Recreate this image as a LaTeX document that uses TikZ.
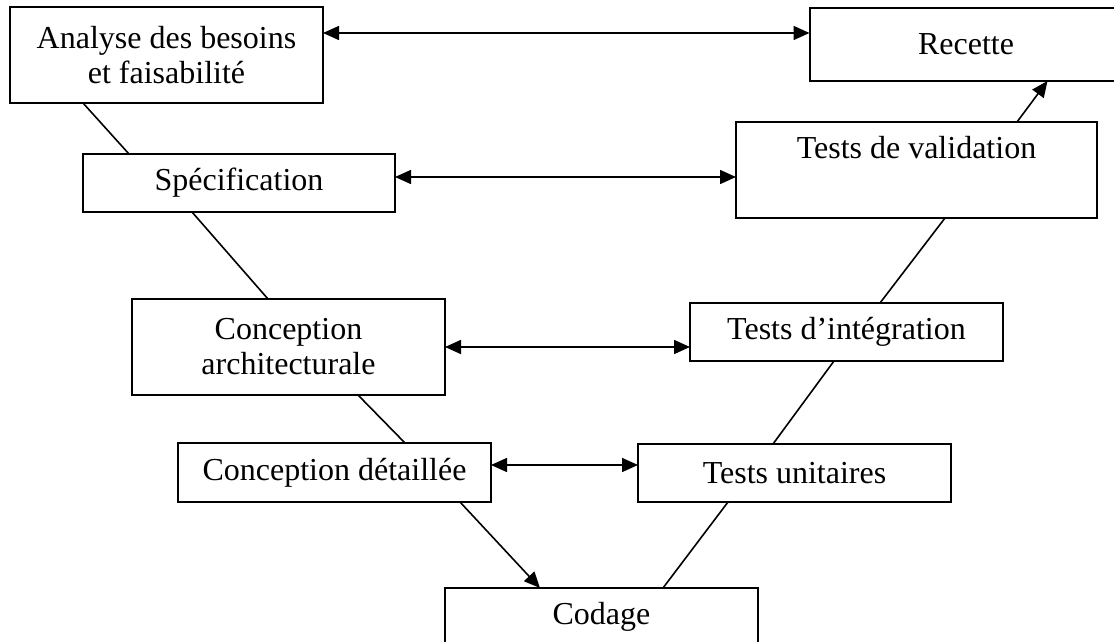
\documentclass[tikz,border=0pt]{standalone}
\usepackage{fontspec}
\setmainfont{Liberation Serif}
\usetikzlibrary{arrows.meta,calc}

\begin{document}
\begin{tikzpicture}[x=0.5pt,y=-0.5pt,
    etape/.style={draw,line width=1pt,inner sep=0pt,outer sep=0pt,minimum width=156.5pt,align=center,font=\fontsize{16}{17.5}\selectfont},
    lien/.style={line width=0.8pt},
    fl/.style={line width=0.8pt,-{Triangle[length=8pt,width=7pt]}},
    dfl/.style={line width=0.8pt,{Triangle[length=8pt,width=7pt]}-{Triangle[length=8pt,width=7pt]}}]
    \useasboundingbox(0,0) rectangle (1114,642);
    \node[etape,minimum height=48pt](A)at(166.5,55){Analyse des besoins\\et faisabilité};
    \node[etape,minimum height=36.5pt](R)at(966,44.5){Recette};
    \node[etape,minimum width=156pt,minimum height=29pt](S)at(239,183){Spécification};
    \node[etape,minimum width=180.5pt,minimum height=48pt](V)at(916.5,170){Tests de validation\\ \strut};
    \node[etape,minimum height=48pt](CA)at(288.5,347){Conception\\architecturale};
    \node[etape,minimum height=29pt](I)at(846.5,332){Tests d’intégration};
    \node[etape,minimum height=29.5pt](CD)at(334.5,472.5){Conception détaillée};
    \node[etape,minimum height=29pt](U)at(794.5,473){Tests unitaires};
    \node[etape,minimum height=29pt](C)at(601.5,617){Codage};
    \draw[lien]([xshift=36.5pt]A.south west)--([xshift=23pt]S.north west);
    \draw[lien]([xshift=54.5pt]S.south west)--([xshift=68pt]CA.north west);
    \draw[lien]([xshift=113pt]CA.south west)--([xshift=113.5pt]CD.north west);
    \draw[fl]([xshift=141pt]CD.south west)--([xshift=47.5pt]C.north west);
    \draw[lien]([xshift=45pt]U.south west)--([xshift=109pt]C.north west);
    \draw[lien]([xshift=72pt]I.south west)--([xshift=67.5pt]U.north west);
    \draw[lien]([xshift=104.5pt]V.south west)--([xshift=95pt]I.north west);
    \draw[fl]([xshift=140.5pt]V.north west)--([xshift=119pt]R.south west);
    \draw[dfl]([yshift=11pt]A.east)--([yshift=5.75pt]R.west);
    \draw[dfl]([yshift=3pt]S.east)--([yshift=-3.5pt]V.west);
    \draw[dfl](CA.east)--([yshift=-7.5pt]I.west);
    \draw[dfl]([yshift=3.75pt]CD.east)--([yshift=4pt]U.west);
\end{tikzpicture}
\end{document}
